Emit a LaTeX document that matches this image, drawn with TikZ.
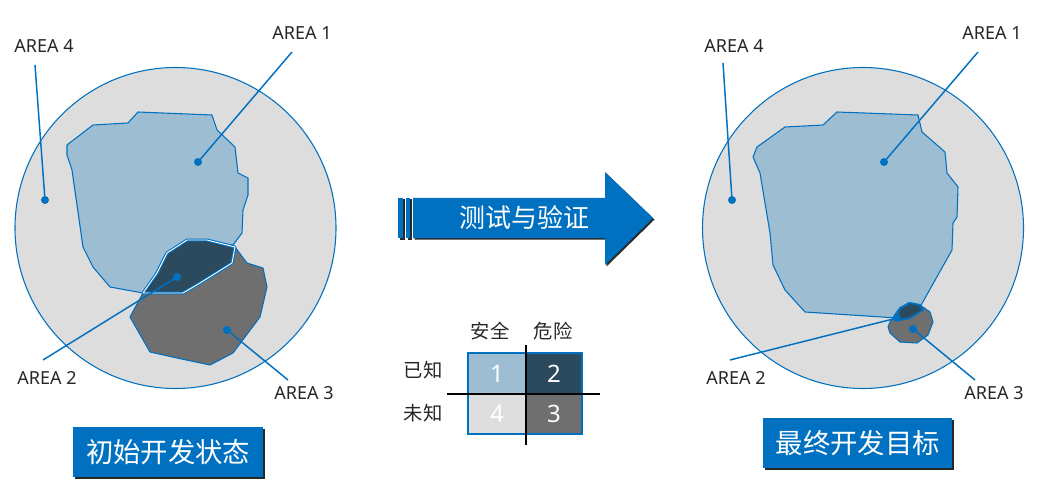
\documentclass[tikz,border=0pt]{standalone}
\usepackage{fontspec}
\setmainfont{Noto Sans}
\newfontfamily\cjk{Noto Sans CJK SC}
\definecolor{mblue}{RGB}{0,112,192}
\definecolor{cgray}{RGB}{221,221,221}
\definecolor{aone}{RGB}{157,189,211}
\definecolor{atwo}{RGB}{44,74,94}
\definecolor{athree}{RGB}{111,111,111}
\definecolor{shadowc}{RGB}{40,40,40}
\tikzset{
  world/.style={fill=cgray,draw=mblue,line width=0.8pt},
  areaone/.style={fill=aone,draw=mblue,line width=0.8pt,line join=round},
  areathree/.style={fill=athree,draw=mblue,line width=0.8pt,line join=round},
  areatwo/.style={fill=atwo,draw=mblue,line width=2.2pt,line join=round},
  areatwoin/.style={draw=white,line width=0.7pt,line join=round},
  lead/.style={draw=mblue,line width=1.1pt},
  dotnode/.style={circle,fill=mblue,inner sep=0pt,minimum size=6pt},
  lbl/.style={font=\fontsize{13.5}{14}\selectfont,text=black!85,inner sep=0pt},
  titlebox/.style={fill=mblue,text=white,font=\cjk\fontsize{20.5}{21}\selectfont,inner sep=0pt},
  cjklbl/.style={font=\cjk\fontsize{14.5}{15}\selectfont,text=black!85,inner sep=0pt},
  cellnum/.style={font=\fontsize{18}{19}\selectfont,text=white,inner sep=0pt},
}
\begin{document}
\begin{tikzpicture}[x=0.75pt,y=-0.75pt]
\useasboundingbox (0,0) rectangle (1041,495);

% ---------------- left picture ----------------
\draw[world] (175.5,228) circle (160.5);
\path[areaone] (67,145)--(93,125)--(128,123)--(138,112)--(212,115)--(217,130)--(235,147)--(238,173)--(248,178)--(248,195)--(243,210)--(242,233)--(233,245)--(187,240)--(165,255)--(155,275)--(143,293)--(110,287)--(93,267)--(83,247)--(72,170)--(67,155)--cycle;
\path[areathree] (235,247)--(247,263)--(263,268)--(267,287)--(260,317)--(233,353)--(210,365)--(177,358)--(150,352)--(130,317)--(143,293)--(183,293)--(200,283)--(232,263)--cycle;
\path[areatwo] (143,293)--(157,273)--(167,253)--(187,240)--(207,240)--(235,247)--(232,263)--(200,283)--(183,293)--(150,293)--cycle;
\path[areatwoin] (143,293)--(157,273)--(167,253)--(187,240)--(207,240)--(235,247)--(232,263)--(200,283)--(183,293)--(150,293)--cycle;

\node[dotnode] (l1d) at (198,162) {};
\node[dotnode] (l4d) at (45,200) {};
\node[dotnode] (l2d) at (177,277) {};
\node[dotnode] (l3d) at (227,330) {};
\coordinate (l1e) at (292,52);
\coordinate (l4e) at (35,65);
\coordinate (l2e) at (43,360);
\coordinate (l3e) at (288,380);
\draw[lead] (l1d.center)--(l1e);
\draw[lead] (l4d.center)--(l4e);
\draw[lead] (l2d.center)--(l2e);
\draw[lead] (l3d.center)--(l3e);
\node[lbl] (l1t) at (302,33) {AREA 1};
\node[lbl] (l4t) at (44,46) {AREA 4};
\node[lbl] (l2t) at (47,378) {AREA 2};
\node[lbl] (l3t) at (304,393) {AREA 3};

% ---------------- right picture ----------------
\draw[world] (863,228) circle (160.5);
\path[areaone] (757,147)--(785,127)--(823,125)--(837,112)--(918,115)--(922,132)--(945,152)--(947,173)--(958,187)--(957,217)--(953,223)--(952,250)--(920,307)--(897,318)--(805,312)--(785,290)--(773,265)--(770,233)--(760,173)--(753,157)--cycle;
\path[areathree] (890,322)--(898,310)--(908,303)--(920,305)--(930,312)--(933,322)--(928,335)--(917,343)--(900,342)--(890,333)--(888,327)--cycle;
\path[areatwo,line width=1.4pt] (897,317)--(900,308)--(910,303)--(920,305)--(923,310)--(910,318)--(900,320)--cycle;

\node[dotnode] (r1d) at (884,162) {};
\node[dotnode] (r4d) at (732,200) {};
\node[dotnode] (r2d) at (897,318) {};
\node[dotnode] (r3d) at (913,329) {};
\coordinate (r1e) at (978,52);
\coordinate (r4e) at (723,63);
\coordinate (r2e) at (730,360);
\coordinate (r3e) at (975,380);
\draw[lead] (r1d.center)--(r1e);
\draw[lead] (r4d.center)--(r4e);
\draw[lead] (r2d.center)--(r2e);
\draw[lead] (r3d.center)--(r3e);
\node[lbl] (r1t) at (992,33) {AREA 1};
\node[lbl] (r4t) at (734,46) {AREA 4};
\node[lbl] (r2t) at (736,378) {AREA 2};
\node[lbl] (r3t) at (994,393) {AREA 3};

% ---------------- arrow ----------------
\begin{scope}[shift={(1.5,1.5)}]
\fill[shadowc] (413,198)--(605,198)--(605,172)--(653,218)--(605,265)--(605,238)--(413,238)--cycle;
\fill[shadowc] (398,198) rectangle (403,238);
\fill[shadowc] (406,198) rectangle (410,238);
\end{scope}
\fill[mblue] (413,198)--(605,198)--(605,172)--(653,218)--(605,265)--(605,238)--(413,238)--cycle;
\fill[mblue] (398,198) rectangle (403,238);
\fill[mblue] (406,198) rectangle (410,238);
\node[text=white,font=\cjk\fontsize{19.5}{20}\selectfont,inner sep=0pt] (arrtxt) at (524,218) {测试与验证};

% ---------------- legend table ----------------
\fill[aone] (468,353) rectangle (526,394);
\fill[atwo] (526,353) rectangle (582,394);
\fill[cgray] (468,394) rectangle (526,434);
\fill[athree] (526,394) rectangle (582,434);
\draw[mblue,line width=0.8pt] (468,353) rectangle (582,434);
\coordinate (hl) at (447,394);
\coordinate (hr) at (600,394);
\coordinate (vt) at (526,345);
\coordinate (vb) at (526,445);
\draw[black,line width=1pt] (hl)--(hr);
\draw[black,line width=1pt] (vt)--(vb);
\node[cellnum] (c1) at (497,374) {1};
\node[cellnum] (c2) at (554,374) {2};
\node[cellnum] (c4) at (497,414) {4};
\node[cellnum] (c3) at (554,414) {3};
\node[cjklbl] (safe) at (490,331) {安全};
\node[cjklbl] (danger) at (553,331) {危险};
\node[cjklbl] (known) at (423,370) {已知};
\node[cjklbl] (unknown) at (423,413) {未知};

% ---------------- title boxes ----------------
\fill[shadowc] (75,429) rectangle (265,479);
\node[titlebox,minimum width=190*0.75pt,minimum height=50*0.75pt,anchor=north west] (lbox) at (73,427) {初始开发状态};
\fill[shadowc] (765,420) rectangle (954,470);
\node[titlebox,minimum width=189*0.75pt,minimum height=50*0.75pt,anchor=north west] (rbox) at (763,418) {最终开发目标};
\end{tikzpicture}
\end{document}
